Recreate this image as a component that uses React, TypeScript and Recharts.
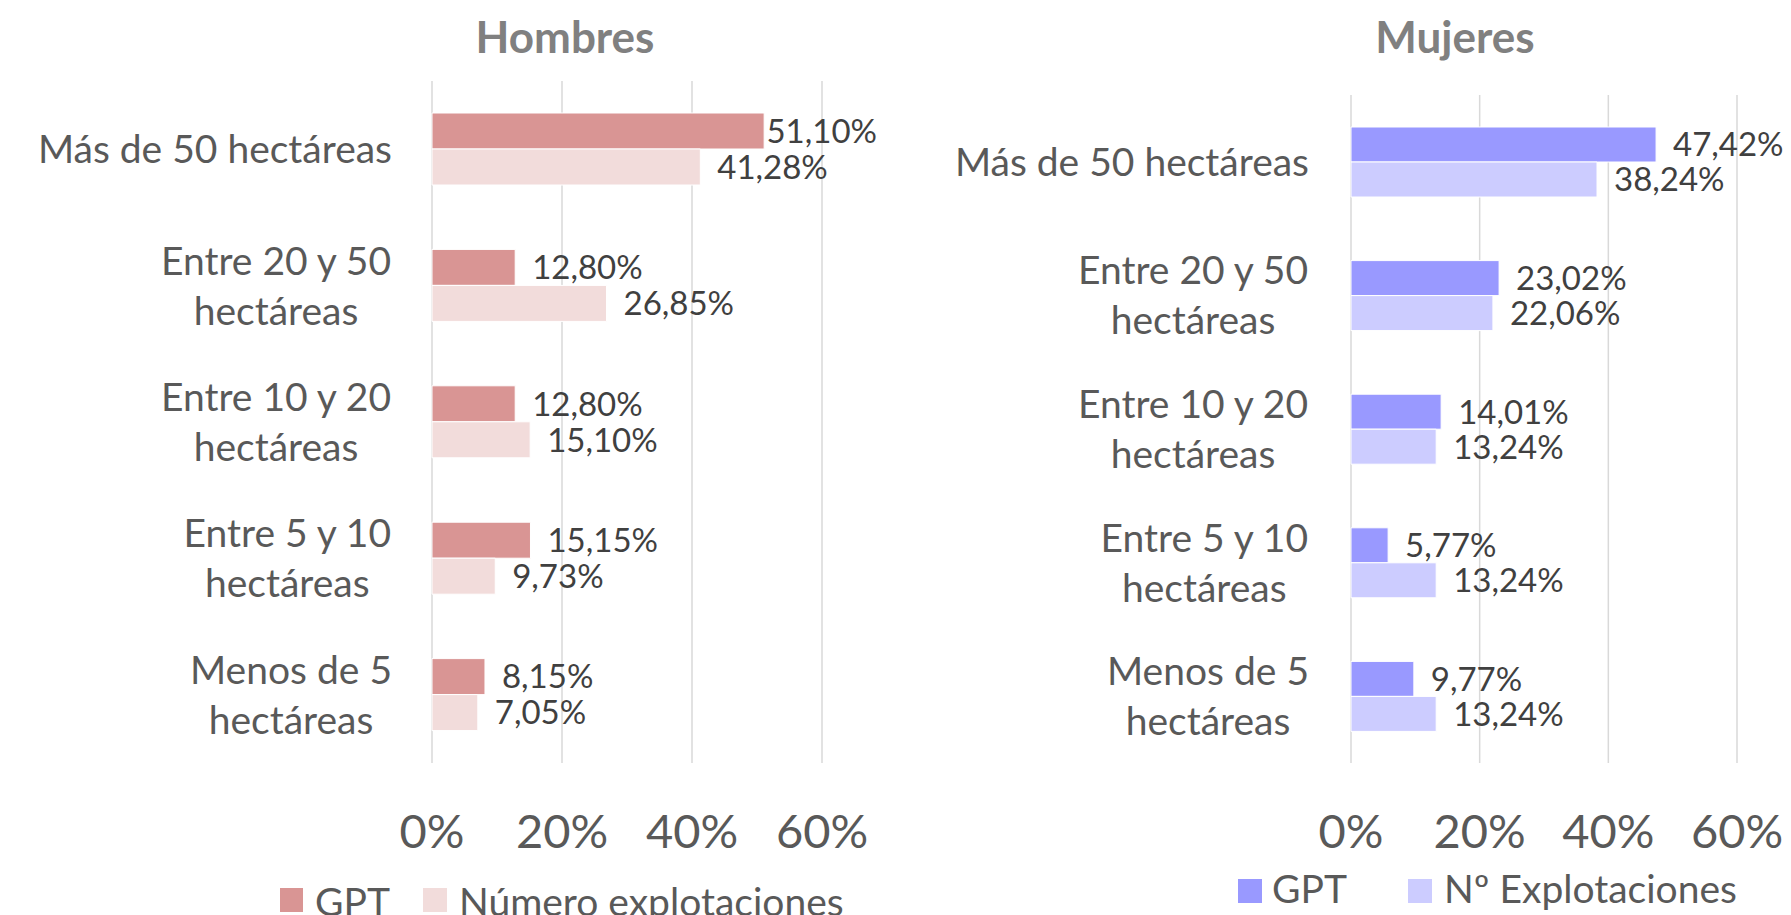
import { BarChart, Bar, XAxis, YAxis, CartesianGrid, LabelList } from 'recharts'

// categorías (de arriba a abajo), con salto de línea como en el original
const categories = [
  'Más de 50 hectáreas',
  'Entre 20 y 50\nhectáreas',
  'Entre 10 y 20\nhectáreas',
  'Entre 5 y 10\nhectáreas',
  'Menos de 5\nhectáreas',
]

const hombresGpt = [0.511, 0.128, 0.128, 0.1515, 0.0815]
const hombresExplotaciones = [0.4128, 0.2685, 0.151, 0.0973, 0.0705]
const mujeresGpt = [0.4742, 0.2302, 0.1401, 0.0577, 0.0977]
const mujeresExplotaciones = [0.3824, 0.2206, 0.1324, 0.1324, 0.1324]

const xTicks = [0, 0.2, 0.4, 0.6]

const FONT = 'Lato, "Open Sans", sans-serif'
const CAT_SIZE = 39
const TICK_SIZE = 47
const LABEL_SIZE = 33
const LEGEND_SIZE = 39
const TITLE_SIZE = 44

const hombresData = categories.map((cat, i) => ({ cat, gpt: hombresGpt[i], expl: hombresExplotaciones[i] }))
const mujeresData = categories.map((cat, i) => ({ cat, gpt: mujeresGpt[i], expl: mujeresExplotaciones[i] }))

const pct = (v: number) => `${Math.round(v * 100)}%`
const pct2 = (v: number) => `${(v * 100).toFixed(2).replace('.', ',')}%`

let ctx: CanvasRenderingContext2D | null = null
function textWidth(s: string, size: number, weight = 400) {
  if (!ctx) ctx = document.createElement('canvas').getContext('2d')
  if (!ctx) return s.length * size * 0.5
  ctx.font = `${weight} ${size}px Lato`
  return ctx.measureText(s).width
}

function CategoryTick(props: any) {
  const { x, y, payload } = props
  const lines = String(payload.value).split('\n')
  const block = Math.max(...lines.map((l) => textWidth(l, CAT_SIZE)))
  const cx = x - block / 2
  const gap = 50
  return (
    <g>
      {lines.map((l, i) => (
        <text
          key={i}
          x={cx}
          y={y + (i - (lines.length - 1) / 2) * gap + 0.36 * CAT_SIZE}
          textAnchor="middle"
          fill="#595959"
          fontSize={CAT_SIZE}
          fontFamily={FONT}
        >
          {l}
        </text>
      ))}
    </g>
  )
}

// etiqueta al final de la barra; si no cabe, se pega a la barra
function makeValueLabel(limit: number) {
  return (props: any) => {
    const { x, y, width, height, value } = props
    const txt = pct2(Number(value))
    const w = textWidth(txt, LABEL_SIZE)
    const end = x + width
    let tx = end + 17
    if (tx + w > limit) tx = Math.max(end + 2, limit - w)
    return (
      <text x={tx} y={y + height / 2 + 0.36 * LABEL_SIZE} fill="#404040" fontSize={LABEL_SIZE} fontFamily={FONT}>
        {txt}
      </text>
    )
  }
}

interface PanelProps {
  data: any[]
  left: number
  width: number
  top: number
  right: number
  yWidth: number
  tickMargin: number
  barSize: number
  colors: [string, string]
  labelLimit: number
}

function Panel({ data, left, width, top, right, yWidth, tickMargin, barSize, colors, labelLimit }: PanelProps) {
  const label = makeValueLabel(labelLimit)
  return (
    <div style={{ position: 'absolute', left, top: 0 }}>
      <BarChart
        width={width}
        height={915}
        data={data}
        layout="vertical"
        barGap={0}
        margin={{ top, right, bottom: 92, left: 0 }}
        style={{ overflow: 'visible' }}
      >
        <CartesianGrid horizontal={false} stroke="#d9d9d9" strokeWidth={1.5} />
        <XAxis
          type="number"
          domain={[0, 0.6]}
          ticks={xTicks}
          tickFormatter={pct}
          axisLine={false}
          tickLine={false}
          tickSize={0}
          tickMargin={52}
          height={60}
          interval={0}
          tick={{ fill: '#595959', fontSize: TICK_SIZE, fontFamily: FONT }}
        />
        <YAxis
          type="category"
          dataKey="cat"
          width={yWidth}
          axisLine={false}
          tickLine={false}
          tickSize={0}
          tickMargin={tickMargin}
          interval={0}
          tick={(p: any) => <CategoryTick {...p} />}
        />
        <Bar dataKey="gpt" fill={colors[0]} stroke="#ffffff" strokeWidth={1} barSize={barSize} isAnimationActive={false}>
          <LabelList dataKey="gpt" content={label} />
        </Bar>
        <Bar dataKey="expl" fill={colors[1]} stroke="#ffffff" strokeWidth={1} barSize={barSize} isAnimationActive={false}>
          <LabelList dataKey="expl" content={label} />
        </Bar>
      </BarChart>
    </div>
  )
}

export default function App() {
  return (
    <div
      style={{
        position: 'absolute',
        left: 0,
        top: 0,
        width: 1791,
        height: 915,
        background: '#ffffff',
        overflow: 'hidden',
        fontFamily: FONT,
      }}
    >
      <Panel
        data={hombresData}
        left={0}
        width={900}
        top={81}
        right={78}
        yWidth={432}
        tickMargin={40}
        barSize={36}
        colors={['#d99594', '#f2dcdb']}
        labelLimit={877}
      />
      <Panel
        data={mujeresData}
        left={900}
        width={891}
        top={95}
        right={54}
        yWidth={451}
        tickMargin={42}
        barSize={35}
        colors={['#9999ff', '#ccccff']}
        labelLimit={891}
      />
      <svg width={1791} height={915} style={{ position: 'absolute', left: 0, top: 0, pointerEvents: 'none' }}>
        <text x={565} y={53} textAnchor="middle" fill="#808080" fontSize={TITLE_SIZE} fontWeight={700} fontFamily={FONT}>
          Hombres
        </text>
        <text x={1455} y={53} textAnchor="middle" fill="#808080" fontSize={TITLE_SIZE} fontWeight={700} fontFamily={FONT}>
          Mujeres
        </text>

        <rect x={280} y={888} width={23} height={24} fill="#d99594" />
        <text x={315} y={916} fill="#595959" fontSize={LEGEND_SIZE} fontFamily={FONT}>GPT</text>
        <rect x={423} y={888} width={24} height={24} fill="#f2dcdb" />
        <text x={459} y={916} fill="#595959" fontSize={LEGEND_SIZE} fontFamily={FONT}>Número explotaciones</text>

        <rect x={1238} y={879} width={24} height={24} fill="#9999ff" />
        <text x={1272} y={903} fill="#595959" fontSize={LEGEND_SIZE} fontFamily={FONT}>GPT</text>
        <rect x={1408} y={879} width={24} height={24} fill="#ccccff" />
        <text x={1444} y={903} fill="#595959" fontSize={LEGEND_SIZE} fontFamily={FONT}>Nº Explotaciones</text>
      </svg>
    </div>
  )
}
